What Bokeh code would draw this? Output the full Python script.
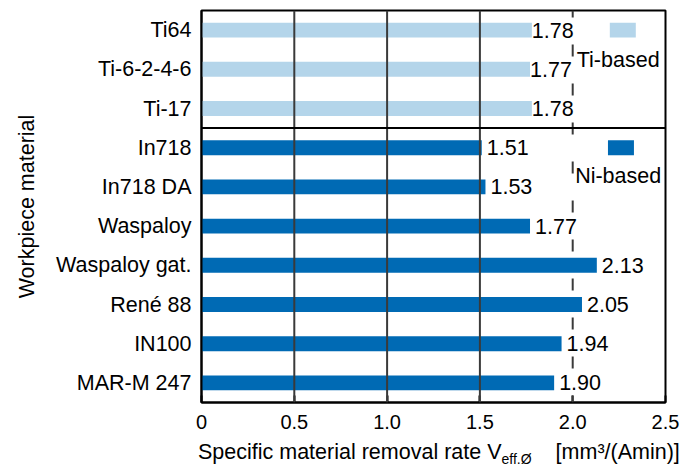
from bokeh.plotting import figure
from bokeh.models import Range1d, FixedTicker, Span, Label, BoxAnnotation, Div
from bokeh.layouts import column
from bokeh.core.properties import value
from bokeh.embed import file_html
from bokeh.resources import INLINE

# ---- data ----
ti_materials = ["Ti64", "Ti-6-2-4-6", "Ti-17"]
ti_values = [1.78, 1.77, 1.78]
ni_materials = ["In718", "In718 DA", "Waspaloy", "Waspaloy gat.", "René 88", "IN100", "MAR-M 247"]
ni_values = [1.51, 1.53, 1.77, 2.13, 2.05, 1.94, 1.90]
x_ticks = [0, 0.5, 1.0, 1.5, 2.0, 2.5]
x_tick_labels = ["0", "0.5", "1.0", "1.5", "2.0", "2.5"]
series_names = ["Ti-based", "Ni-based"]

FONT = "Liberation Sans"
FS = "21.5px"
LIGHT = "#B4D5EA"
DARK = "#006AB4"

materials = ti_materials + ni_materials
rows = list(range(1, len(materials) + 1))
ti_rows = rows[:len(ti_materials)]
ni_rows = rows[len(ti_materials):]

p = figure(width=696, height=436, output_backend="svg", toolbar_location=None,
           x_range=Range1d(0, 2.5), y_range=Range1d(len(materials) + 0.5, 0.5),
           min_border_left=201, min_border_right=31, min_border_top=10, min_border_bottom=34)
p.outline_line_color = "black"
p.outline_line_width = 2
p.grid.visible = False
p.background_fill_color = "white"
p.border_fill_color = "white"

# bars
p.hbar(y=ti_rows, right=ti_values, left=0, height=0.38, fill_color=LIGHT, line_color=None)
p.hbar(y=ni_rows, right=ni_values, left=0, height=0.38, fill_color=DARK, line_color=None)

# grid lines
for v in x_ticks[1:4]:
    p.add_layout(Span(location=v, dimension="height", line_color="#3a3a3a", line_width=2))
p.add_layout(Span(location=x_ticks[4], dimension="height", line_color="#3a3a3a", line_width=2,
                  line_dash="12 27", line_dash_offset=5))
# group separator
p.add_layout(Span(location=len(ti_materials) + 0.5, dimension="width", line_color="black", line_width=2))

# value labels
p.text(x=ti_values, y=ti_rows, text=[f"{v:.2f}" for v in ti_values], x_offset=0,
       text_baseline="middle", text_font=value(FONT), text_font_size=FS, text_color="black")
p.text(x=ni_values, y=ni_rows, text=[f"{v:.2f}" for v in ni_values], x_offset=5,
       text_baseline="middle", text_font=value(FONT), text_font_size=FS, text_color="black")

# legend (manual)
p.add_layout(BoxAnnotation(left=2.20, right=2.34, top=ti_rows[0] - 0.19, bottom=ti_rows[0] + 0.19,
                           fill_color=LIGHT, fill_alpha=1, line_color=None))
p.add_layout(BoxAnnotation(left=2.19, right=2.33, top=ni_rows[0] - 0.19, bottom=ni_rows[0] + 0.19,
                           fill_color=DARK, fill_alpha=1, line_color=None))
p.add_layout(Label(x=2.245, y=1.75, text=series_names[0], text_align="center", text_baseline="middle",
                   text_font=FONT, text_font_size=FS, text_color="black", background_fill_color="white"))
p.add_layout(Label(x=2.245, y=4.71, text=series_names[1], text_align="center", text_baseline="middle",
                   text_font=FONT, text_font_size=FS, text_color="black", background_fill_color="white"))

# axes
p.xaxis.ticker = FixedTicker(ticks=x_ticks)
p.xaxis.major_label_overrides = {t: l for t, l in zip(x_ticks, x_tick_labels)}
p.xaxis.major_tick_in = 7
p.xaxis.major_tick_out = 0
p.xaxis.minor_tick_line_color = None
p.xaxis.axis_line_width = 2
p.xaxis.major_tick_line_width = 2
p.xaxis.axis_line_color = "black"
p.xaxis.major_tick_line_color = "black"
p.xaxis.major_label_text_font = FONT
p.xaxis.major_label_text_font_size = "20px"
p.xaxis.major_label_text_color = "black"
p.xaxis.major_label_standoff = 12

p.yaxis.ticker = FixedTicker(ticks=rows)
p.yaxis.major_label_overrides = {r: m for r, m in zip(rows, materials)}
p.yaxis.major_tick_in = 0
p.yaxis.major_tick_out = 0
p.yaxis.minor_tick_line_color = None
p.yaxis.axis_line_width = 2
p.yaxis.axis_line_color = "black"
p.yaxis.major_label_text_font = FONT
p.yaxis.major_label_text_font_size = FS
p.yaxis.major_label_text_color = "black"
p.yaxis.major_label_standoff = 10
p.yaxis.axis_label = "Workpiece material"
p.yaxis.axis_label_text_font = FONT
p.yaxis.axis_label_text_font_size = FS
p.yaxis.axis_label_text_font_style = "normal"
p.yaxis.axis_label_text_color = "black"
p.yaxis.axis_label_standoff = 14

# x-axis title with subscript
x_title = ('Specific material removal rate V'
           '<sub style="font-size:14px;vertical-align:-5px;line-height:0">eff.Ø</sub>'
           '<span style="margin-left:24px">[mm³/(Amin)]</span>')
div = Div(text=x_title, width=490, height=30, margin=(0, 0, 0, 198),
          styles={"font-family": FONT, "font-size": FS, "color": "black",
                  "white-space": "nowrap", "padding-top": "6px", "line-height": "1"})

open("out.html", "w").write(file_html(column(p, div, spacing=0), INLINE))
